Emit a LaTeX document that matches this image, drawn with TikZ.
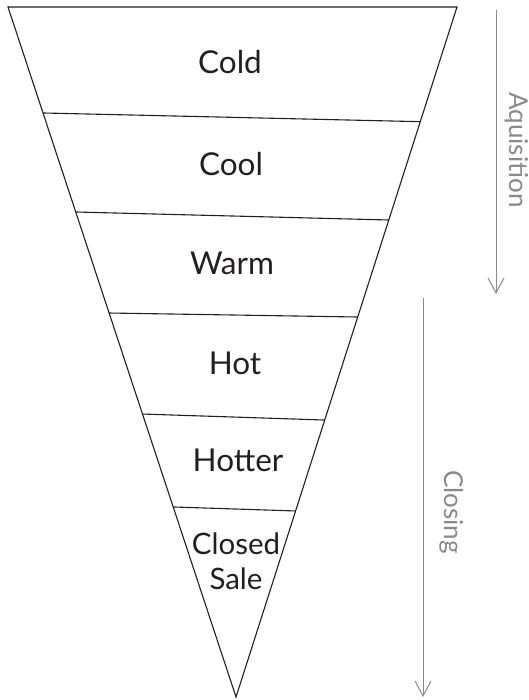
\documentclass[tikz,border=0pt]{standalone}
\usepackage{fontspec}
\setmainfont{Lato}
\usetikzlibrary{calc,arrows.meta}
\definecolor{ink}{HTML}{231F20}
\definecolor{stagegray}{HTML}{8A8A8A}
\begin{document}
\begin{tikzpicture}[x=1pt,y=-1pt,
  funnelline/.style={draw=ink,line width=1.1pt,line join=miter},
  stagelabel/.style={text=ink,font=\fontsize{31.5}{35}\selectfont,align=center,inner sep=0pt},
  phasearrow/.style={draw=stagegray,line width=1pt,-{Straight Barb[length=15pt,width=16pt,line width=1pt]}},
  phaselabel/.style={text=stagegray,font=\fontsize{26}{30}\selectfont,rotate=-90,anchor=mid,inner sep=0pt}]
  \useasboundingbox (0,0) rectangle (528,700);
  % funnel outline
  \coordinate (TL) at (8,7);
  \coordinate (TR) at (457,7);
  \coordinate (A) at (236,697);
  \draw[funnelline] (TL) -- (TR) -- (A) -- cycle;
  % band dividers
  \foreach \i/\l/\r in {1/0.1536/0.1662, 2/0.2971/0.3087, 3/0.4435/0.4493, 4/0.5899/0.5986, 5/0.7246/0.7304}{
    \coordinate (dl\i) at ($(TL)!\l!(A)$);
    \coordinate (dr\i) at ($(TR)!\r!(A)$);
    \draw[funnelline] (dl\i) -- (dr\i);
  }
  % stage names
  \node[stagelabel] (cold) at (230,62) {Cold};
  \node[stagelabel] (cool) at (231,164) {Cool};
  \node[stagelabel] (warm) at (232,263) {Warm};
  \node[stagelabel] (hot) at (235,363) {Hot};
  \node[stagelabel] (hotter) at (238,460) {Hotter};
  \node[stagelabel,font=\fontsize{29.5}{35}\selectfont] (closed) at (236,561) {Closed\\Sale};
  % phase arrows
  \coordinate (aqs) at (496,10);
  \coordinate (aqe) at (496,294);
  \draw[phasearrow] (aqs) -- (aqe);
  \node[phaselabel] (aqlabel) at (512,150) {Aquisition};
  \coordinate (cls) at (423,298);
  \coordinate (cle) at (423,697);
  \draw[phasearrow] (cls) -- (cle);
  \node[phaselabel] (cllabel) at (447,512) {Closing};
\end{tikzpicture}
\end{document}
